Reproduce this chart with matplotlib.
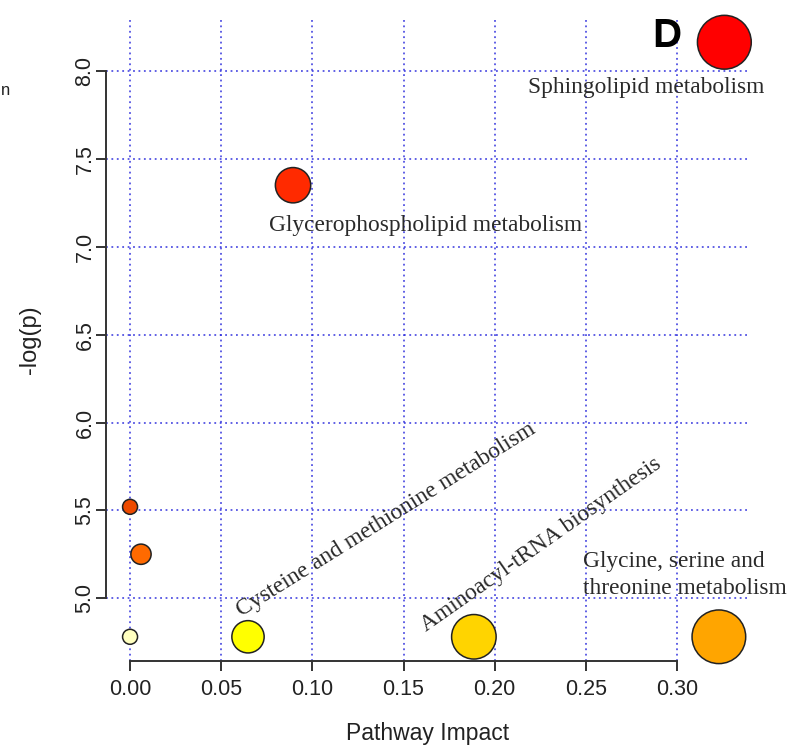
import numpy as np
import matplotlib
matplotlib.use('Agg')
import matplotlib.pyplot as plt

# pathway impact vs -log(p)
pathways = ['Sphingolipid metabolism', 'Glycerophospholipid metabolism', '', '', '',
            'Cysteine and methionine metabolism', 'Aminoacyl-tRNA biosynthesis',
            'Glycine, serine and\nthreonine metabolism']
impact = [0.326, 0.0894, 0.0, 0.006, 0.0, 0.0647, 0.1886, 0.323]
logp = [8.165, 7.351, 5.52, 5.25, 4.78, 4.78, 4.78, 4.78]
fills = ['#FF0000', '#FF2A00', '#EE4A00', '#FF6A00', '#FFFFC0', '#FFFF00', '#FFD400', '#FFA500']

xticks = [0.00, 0.05, 0.10, 0.15, 0.20, 0.25, 0.30]
yticks = [5.0, 5.5, 6.0, 6.5, 7.0, 7.5, 8.0]

sans = 'Liberation Sans'
serif = 'Liberation Serif'

fig = plt.figure(figsize=(7.91, 7.51), dpi=100)
ax = fig.add_axes([0.134, 0.1198, 0.814, 0.856])

# bubble radius (px) grows with impact
r_px = 7.5 + 34 * np.sqrt(np.array(impact))
s = (2 * r_px * 72 / 100) ** 2
ax.scatter(impact, logp, s=s, c=fills, edgecolors='#222222', linewidths=1.1,
           zorder=3, clip_on=False)

ax.set_xlim(-0.0132, 0.340)
ax.set_ylim(4.642, 8.302)
ax.set_xticks(xticks)
ax.set_yticks(yticks)
ax.set_xticklabels(['%.2f' % v for v in xticks], fontsize=15.5, family=sans, color='#222222')
ax.set_yticklabels(['%.1f' % v for v in yticks], fontsize=15.5, family=sans, color='#222222',
                   rotation=90, va='center')

ax.grid(True, color='#2828DC', linestyle=(0, (1, 2)), linewidth=1.3, alpha=0.8)
ax.set_axisbelow(True)

for side in ['top', 'right']:
    ax.spines[side].set_visible(False)
ax.spines['left'].set_bounds(5.0, 8.0)
ax.spines['bottom'].set_bounds(0.0, 0.30)
for side in ['left', 'bottom']:
    ax.spines[side].set_color('#333333')
    ax.spines[side].set_linewidth(1.4)
ax.tick_params(direction='out', length=7, width=1.4, color='#333333', pad=6)
ax.tick_params(axis='y', pad=0.5)

ax.set_xlabel('Pathway Impact', fontsize=16.5, family=sans, color='#222222', va='center')
ax.xaxis.set_label_coords(0.5, -0.112)
ax.set_ylabel('-log(p)', fontsize=17, family=sans, color='#222222', va='center')
ax.yaxis.set_label_coords(-0.118, 0.5)

# pathway names
lab_kw = dict(fontsize=16.8, family=serif, color='#2a2a2a', zorder=4)
ax.text(0.2829, 7.909, pathways[0], ha='center', va='center', **lab_kw)
ax.text(0.1623, 7.124, pathways[1], ha='center', va='center', **lab_kw)
ax.text(0.1404, 5.444, pathways[5], ha='center', va='center', rotation=32,
        rotation_mode='anchor', **lab_kw)
ax.text(0.2253, 5.302, pathways[6], ha='center', va='center', rotation=35,
        rotation_mode='anchor', **lab_kw)
ax.text(0.2484, 5.131, pathways[7], ha='left', va='center', linespacing=1.4, **lab_kw)

fig.text(652 / 791, 1 - 47 / 751, 'D', fontsize=29, fontweight='bold', family=sans,
         ha='left', va='baseline')
fig.text(1 / 791, 1 - 95 / 751, 'n', fontsize=12, family=sans, color='#222222',
         ha='left', va='baseline')

fig.savefig('out.png', dpi=100)
